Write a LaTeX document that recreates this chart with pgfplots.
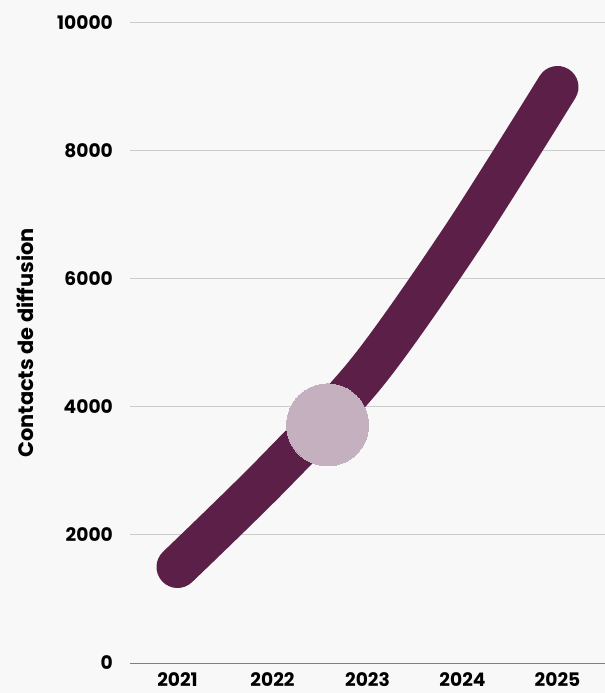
\documentclass[border=0pt]{standalone}
\usepackage{pgfplots}
\pgfplotsset{compat=1.18}
\usepackage{fontspec}
\setmainfont{Poppins}

\definecolor{bg}{HTML}{F8F8F8}
\definecolor{plum}{HTML}{5B1F48}
\definecolor{lilac}{HTML}{C4B0BF}
\definecolor{gridc}{HTML}{CCCCCC}

\begin{document}
\begin{tikzpicture}
  \useasboundingbox (0,0) rectangle (605bp,693bp);
  \fill[bg] (0,0) rectangle (605bp,693bp);
  \begin{axis}[
    at={(130bp,30bp)}, anchor=south west,
    scale only axis,
    width=475bp, height=640bp,
    xmin=2020.5, xmax=2025.5,
    ymin=0, ymax=10000,
    xtick={2021,2022,2023,2024,2025},
    ytick={0,2000,4000,6000,8000,10000},
    scaled ticks=false,
    axis line style={draw=none},
    major tick length=0pt,
    ymajorgrids,
    major grid style={draw=gridc, line width=1bp},
    /pgf/number format/1000 sep={},
    /pgf/number format/assume math mode=true,
    tick label style={font=\fontsize{18.7}{22}\selectfont\bfseries, inner sep=0pt},
    yticklabel style={anchor=east, xshift=-17bp},
    xticklabel style={anchor=north, yshift=-9bp},
    ylabel={Contacts de diffusion},
    ylabel style={at={(axis description cs:-0.2379,0.5)}, anchor=north, inner sep=0pt,
      font=\fontsize{21}{24}\selectfont\bfseries},
    clip=false,
  ]
    \draw[color=black!50, line width=1bp] (axis cs:2020.5,0) -- (axis cs:2025.5,0);
    \addplot[plum, line width=42bp, line cap=round, smooth, no markers]
      coordinates {(2021,1500) (2022,2950) (2023,4550) (2024,6650) (2025,9000)};
    \addplot[only marks, color=lilac, mark=*, mark size=41bp,
      mark options={fill=lilac, draw=lilac, line width=0pt}]
      coordinates {(2022.58,3720)};
  \end{axis}
\end{tikzpicture}
\end{document}
